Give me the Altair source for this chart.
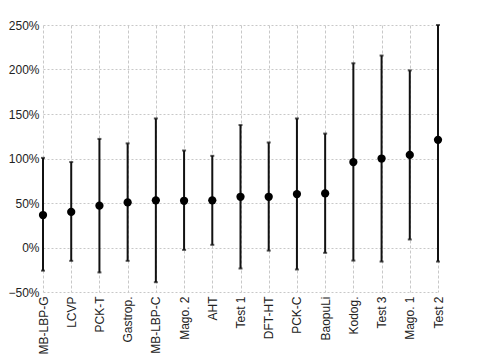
import altair as alt
import pandas as pd

categories = ["MB-LBP-G", "LCVP", "PCK-T", "Gastrop.", "MB-LBP-C", "Mago. 2", "AHT",
              "Test 1", "DFT-HT", "PCK-C", "BaopuLi", "Kodog.", "Test 3", "Mago. 1", "Test 2"]
means = [0.365, 0.40, 0.47, 0.507, 0.53, 0.525, 0.53, 0.57, 0.57, 0.60, 0.608, 0.96, 1.00, 1.04, 1.21]
lows = [-0.26, -0.15, -0.28, -0.15, -0.39, -0.027, 0.03, -0.236, -0.035, -0.247, -0.06, -0.147, -0.158, 0.09, -0.158]
highs = [1.007, 0.96, 1.22, 1.17, 1.45, 1.09, 1.03, 1.376, 1.18, 1.45, 1.28, 2.07, 2.157, 1.99, 2.50]

df = pd.DataFrame({"cat": categories, "mean": means, "low": lows, "high": highs})

x = alt.X("cat:N", sort=categories, title=None,
          scale=alt.Scale(type="point", padding=0),
          axis=alt.Axis(labelAngle=-90, labelFontSize=12, labelFont="Liberation Sans",
                        labelColor="#222", labelPadding=4, ticks=False, domain=False,
                        grid=True, gridColor="#c8c8c8", gridDash=[3, 2], gridWidth=1))
yscale = alt.Scale(domain=[-0.5, 2.5], nice=False, clamp=True)

base = alt.Chart(df)

rules = base.mark_rule(color="#111", strokeWidth=2).encode(
    x=x,
    y=alt.Y("low:Q", scale=yscale, title=None,
            axis=alt.Axis(format=".0%", values=[-0.5, 0, 0.5, 1, 1.5, 2, 2.5],
                          labelFontSize=12, labelFont="Liberation Sans", labelColor="#222",
                          labelPadding=4, ticks=False, domain=False,
                          grid=True, gridColor="#c8c8c8", gridDash=[2, 2], gridWidth=1)),
    y2="high:Q",
)
caps_top = base.mark_tick(color="#111", size=4, thickness=2, orient="horizontal").encode(
    x=x, y=alt.Y("high:Q", scale=yscale))
caps_bot = base.mark_tick(color="#111", size=4, thickness=2, orient="horizontal").encode(
    x=x, y=alt.Y("low:Q", scale=yscale))
points = base.mark_circle(color="#000", size=68, opacity=1).encode(
    x=x, y=alt.Y("mean:Q", scale=yscale))

chart = alt.layer(rules, caps_top, caps_bot, points).properties(
    width=395, height=267,
    autosize=alt.AutoSizeParams(type="none"),
    padding={"left": 35, "top": 17, "right": 30, "bottom": 63},
).configure_view(stroke=None)

chart.save("out.html", embed_options={"renderer": "svg", "actions": False})
